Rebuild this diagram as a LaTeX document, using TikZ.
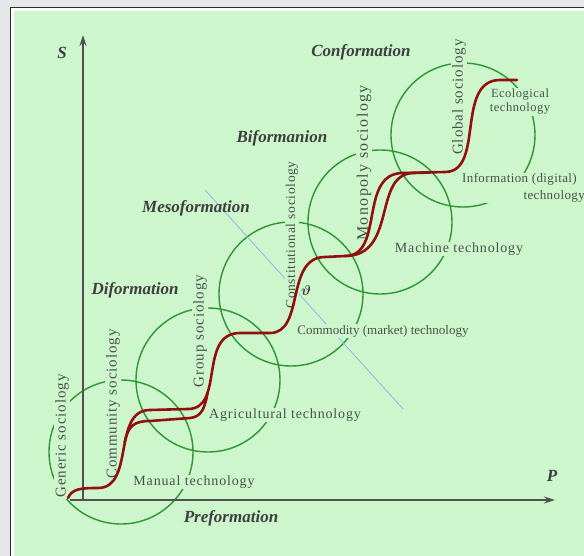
\documentclass[tikz,border=0pt]{standalone}
\usepackage{amsmath}
\usepackage{fontspec}
\setmainfont{Liberation Serif}
\usetikzlibrary{arrows.meta}

\definecolor{pagegray}{RGB}{229,231,233}
\definecolor{framedark}{RGB}{45,45,45}
\definecolor{bggreen}{RGB}{205,246,205}
\definecolor{ringgreen}{RGB}{45,150,50}
\definecolor{stepred}{RGB}{145,15,15}
\definecolor{guideblue}{RGB}{140,180,230}
\definecolor{labelgray}{RGB}{70,82,72}
\definecolor{stagegray}{RGB}{62,62,62}
\definecolor{axisgray}{RGB}{80,80,80}

\begin{document}
\begin{tikzpicture}[x=1pt, y=-1pt,
    ring/.style={circle, draw=ringgreen, line width=1.4pt, minimum size=144pt, inner sep=0pt},
    socio/.style={rotate=90, fill=bggreen, inner sep=1pt, text=labelgray,
        font=\fontsize{15}{15}\selectfont\addfontfeatures{LetterSpace=6}},
    tech/.style={fill=bggreen, inner sep=1pt, text=labelgray,
        font=\fontsize{14}{15}\selectfont\addfontfeatures{LetterSpace=6}},
    stage/.style={text=stagegray, font=\fontsize{17}{17}\selectfont\bfseries\itshape},
    axis/.style={draw=axisgray, line width=1.6pt, -{Stealth[length=11pt, width=7pt]}},
    guide/.style={draw=guideblue, line width=0.8pt},
    evol/.style={draw=stepred, line width=2.6pt, line cap=round}
]
\useasboundingbox (0,0) rectangle (584,556);
\clip (0,0) rectangle (584,556);

% page and frame
\fill[pagegray] (0,0) rectangle (584,556);
\draw[fill=white, draw=framedark, line width=0.8pt] (10,7) rectangle (600,570);
\fill[bggreen] (14,11) rectangle (600,570);

% rings
\foreach \name/\cx/\cy in {manualring/121/452, agriring/208/380, commring/291/294,
    machring/380/222, inforing/463/135} {
    \node[ring] (\name) at (\cx,\cy) {};
}

% dividing line
\coordinate (g1) at (205,190);
\coordinate (g2) at (403,409);
\draw[guide] (g1) -- (g2);

% axes
\coordinate (origin) at (83,500);
\coordinate (pstart) at (70,500);
\coordinate (stop) at (83,35);
\coordinate (pend) at (555,500);
\draw[axis] (origin) -- (stop);
\draw[axis] (pstart) -- (pend);
\node[stage] (s) at (62,53) {S};
\node[stage] (p) at (552,476) {P};

% sociology labels
\node[socio] (generic) at (62,436) {Generic sociology};
\node[socio] (community) at (113,404) {Community sociology};
\node[socio] (group) at (200,331) {Group sociology};
\node[socio, font=\fontsize{13.5}{14}\selectfont\addfontfeatures{LetterSpace=5}] (constit) at (292,235) {Constitutional sociology};
\node[socio, font=\fontsize{16}{16}\selectfont\addfontfeatures{LetterSpace=9}] (monopoly) at (364,163) {Monopoly sociology};
\node[socio] (global) at (459,97) {Global sociology};

% technology labels
\node[tech] (manual) at (194,482) {Manual technology};
\node[tech] (agri) at (285,415) {Agricultural technology};
\node[tech, font=\fontsize{13}{14}\selectfont] (commodity) at (383,331) {Commodity (market) technology};
\node[tech] (machine) at (459,249) {Machine technology};
\node[tech, align=right, anchor=east, font=\fontsize{13}{17}\selectfont\addfontfeatures{LetterSpace=3}] (info) at (578,188) {Information (digital)\\technology\hspace*{-8pt}};
\node[tech, align=center, font=\fontsize{12.5}{14}\selectfont\addfontfeatures{LetterSpace=4}] (eco) at (520,102) {Ecological\\technology};

% formation stages
\node[stage] (conf) at (361,52) {Conformation};
\node[stage] (bif) at (282,138) {Biformanion};
\node[stage] (meso) at (196,208) {Mesoformation};
\node[stage] (dif) at (135,290) {Diformation};
\node[stage] (pref) at (231,518) {Preformation};

% staircase of formations
\draw[evol] (68,498) .. controls (72,489) and (80,488) .. (98,488)
    .. controls (135,488) and (112,410) .. (150,410) -- (188,409)
    .. controls (225,409) and (198,333) .. (240,333) -- (270,333)
    .. controls (305,333) and (285,257) .. (325,257) -- (345,256)
    .. controls (385,256) and (358,173) .. (403,173) -- (445,172)
    .. controls (485,172) and (455,80) .. (500,80) -- (517,80);
\draw[evol] (124.6,442.7) .. controls (128,426) and (134,421) .. (150,421) -- (190,418)
    .. controls (202,417) and (205,407) .. (207.6,392.6);
\draw[evol] (345,256) .. controls (398,256) and (372,173) .. (414,173) -- (430,172.5);

\node[text=stagegray, font=\fontsize{14}{14}\selectfont] (theta) at (306,290) {$\boldsymbol{\vartheta}$};
\end{tikzpicture}
\end{document}
